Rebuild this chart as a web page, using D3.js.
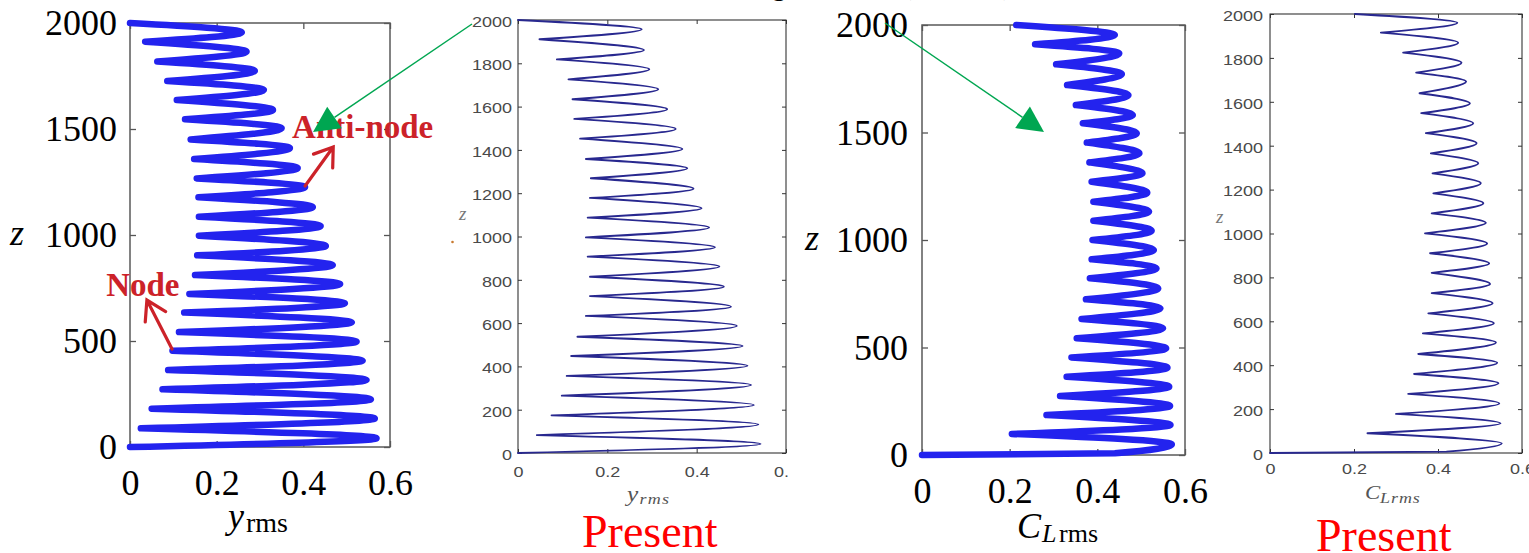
<!DOCTYPE html>
<html>
<head>
<meta charset="utf-8">
<script src="https://cdn.jsdelivr.net/npm/d3@7"></script>
<style>
body{margin:0;background:#fff;}
svg{display:block;}
</style>
</head>
<body>
<script>

// values: [value, z]
// left/right extremes of each zigzag, top to bottom

var xTicks = [0, 0.2, 0.4, 0.6];
var bigZTicks = [0, 500, 1000, 1500, 2000];
var smallZTicks = [0, 200, 400, 600, 800, 1000, 1200, 1400, 1600, 1800, 2000];

// panel 1: y_rms (reference)
var yStart = [0, 2000];
var yPeaks = [[0.258,1956],[0.269,1865],[0.288,1774],[0.309,1684],[0.330,1590],[0.350,1504],[0.369,1410],[0.387,1316],[0.404,1226],[0.422,1132],[0.440,1042],[0.452,948],[0.468,858],[0.485,769],[0.496,678],[0.512,588],[0.523,497],[0.537,407],[0.546,316],[0.556,225],[0.565,134],[0.569,41]];
var yTroughs = [[0.035,1912],[0.063,1818],[0.086,1726],[0.108,1637],[0.127,1546],[0.140,1451],[0.148,1358],[0.154,1267],[0.158,1178],[0.159,1086],[0.159,997],[0.155,904],[0.150,811],[0.137,722],[0.125,634],[0.113,542],[0.098,454],[0.088,363],[0.075,272],[0.050,181],[0.025,88]];
var yEnd = [[0, 0]];

// panel 2: y_rms (present)
var ypStart = [0, 2000];
var ypPeaks = [[0.277,1957],[0.282,1861],[0.294,1772],[0.314,1680],[0.334,1588],[0.353,1497],[0.368,1404],[0.379,1315],[0.393,1221],[0.411,1130],[0.428,1041],[0.441,950],[0.451,861],[0.461,768],[0.477,676],[0.490,587],[0.503,494],[0.514,403],[0.522,314],[0.528,222],[0.538,132],[0.543,42]];
var ypTroughs = [[0.048,1911],[0.087,1818],[0.113,1726],[0.122,1634],[0.126,1543],[0.139,1452],[0.152,1358],[0.163,1269],[0.161,1178],[0.156,1087],[0.152,996],[0.156,907],[0.161,814],[0.161,725],[0.152,633],[0.133,537],[0.119,448],[0.109,356],[0.098,265],[0.075,174],[0.042,83]];
var ypEnd = [[0, 0]];

// panel 3: C_Lrms (reference)
var cStart = [0.215, 2000];
var cPeaks = [[0.440,1953],[0.450,1868],[0.456,1772],[0.471,1674],[0.481,1581],[0.490,1496],[0.496,1403],[0.503,1310],[0.514,1220],[0.518,1132],[0.524,1043],[0.529,953],[0.535,868],[0.539,775],[0.544,682],[0.550,589],[0.557,496],[0.560,406],[0.564,318],[0.566,228],[0.567,140],[0.570,50]];
var cTroughs = [[0.258,1910],[0.306,1817],[0.331,1721],[0.351,1628],[0.367,1543],[0.376,1453],[0.382,1361],[0.387,1271],[0.391,1178],[0.391,1090],[0.389,1000],[0.387,910],[0.383,822],[0.374,724],[0.364,633],[0.353,543],[0.341,454],[0.330,364],[0.315,274],[0.284,186],[0.205,98]];
var cEnd = [[0.44, 8], [0, 0]];

// panel 4: C_Lrms (present)
var cpStart = [0.202, 2000];
var cpPeaks = [[0.446,1960],[0.448,1869],[0.456,1778],[0.467,1692],[0.476,1593],[0.484,1502],[0.492,1411],[0.496,1320],[0.502,1229],[0.508,1138],[0.514,1049],[0.517,955],[0.522,864],[0.524,770],[0.530,682],[0.533,591],[0.538,503],[0.541,411],[0.544,318],[0.546,226],[0.549,135],[0.552,44]];
var cpTroughs = [[0.264,1915],[0.317,1824],[0.348,1733],[0.356,1639],[0.360,1548],[0.371,1457],[0.383,1365],[0.387,1274],[0.389,1183],[0.385,1092],[0.369,1001],[0.381,910],[0.385,821],[0.385,728],[0.377,636],[0.364,545],[0.353,451],[0.343,360],[0.329,269],[0.300,178],[0.232,90]];
var cpEnd = [[0.42, 6], [0, 0]];


var svg = d3.select("body").append("svg")
    .attr("width", 1529).attr("height", 553);

var SERIF = "'Liberation Serif','Times New Roman',serif";
var SANS = "'Liberation Sans',Arial,sans-serif";

svg.append("clipPath").attr("id", "clip2")
  .append("rect").attr("x", 430).attr("y", 0).attr("width", 358).attr("height", 553);


function fmt(d){ return d === 0 ? "0" : d.toFixed(1); }

// one zigzag: trough -> peak -> trough pieces, each monotone in z
function curvePath(x, y, start, peaks, troughs, end){
  var line = d3.line()
      .x(function(d){ return x(d[0]); })
      .y(function(d){ return y(d[1]); })
      .curve(d3.curveMonotoneY);
  var lows = [start].concat(troughs);
  var d = "";
  for (var i = 0; i < peaks.length; i++) {
    var seg = [lows[i], peaks[i]];
    if (i < troughs.length) seg.push(troughs[i]);
    else seg = seg.concat(end);
    d += line(seg);
  }
  return d;
}

function panel(o){
  var g = svg.append("g");
  if (o.clip) g.attr("clip-path", "url(#" + o.clip + ")");
  var x = d3.scaleLinear().domain([0, 0.6]).range([o.x0, o.x1]);
  var y = d3.scaleLinear().domain([0, 2000]).range([o.y1, o.y0]);
  var big = o.big;
  var tk = big ? 6 : 4;

  var left = g.append("g").attr("transform", "translate(" + o.x0 + ",0)")
      .call(d3.axisLeft(y).tickValues(o.zTicks).tickFormat(d3.format("d"))
        .tickSize(-tk).tickSizeOuter(0).tickPadding(o.padL));
  var bottom = g.append("g").attr("transform", "translate(0," + o.y1 + ")")
      .call(d3.axisBottom(x).tickValues(xTicks).tickFormat(fmt).tickSize(-tk).tickSizeOuter(0).tickPadding(o.padB));
  g.append("g").attr("transform", "translate(" + o.x1 + ",0)")
      .call(d3.axisRight(y).tickValues(o.zTicks).tickSize(-tk).tickSizeOuter(0).tickFormat(function(){ return ""; }));
  g.append("g").attr("transform", "translate(0," + o.y0 + ")")
      .call(d3.axisTop(x).tickValues(xTicks).tickSize(-tk).tickSizeOuter(0).tickFormat(function(){ return ""; }));

  g.selectAll(".domain").remove();
  g.selectAll(".tick line").attr("stroke", big ? "#555" : "#333").attr("stroke-width", big ? 1.3 : 1);
  g.selectAll(".tick text")
      .attr("font-family", big ? SERIF : SANS)
      .attr("font-size", big ? 36 : 15)
      .attr("fill", big ? "#000" : "#4a4a4a");
  if (!big) {
    left.selectAll(".tick text").attr("x", -o.padL / 1.2).attr("dy", "0.42em").attr("transform", "scale(1.2,1)");
    bottom.selectAll(".tick text").attr("transform", "scale(1.2,1)");
  }

  g.append("rect")
      .attr("x", o.x0).attr("y", o.y0)
      .attr("width", o.x1 - o.x0).attr("height", o.y1 - o.y0)
      .attr("fill", "none")
      .attr("stroke", big ? "#5a5a5a" : "#333")
      .attr("stroke-width", big ? 1.5 : 1.1);

  g.append("path")
      .attr("d", curvePath(x, y, o.start, o.peaks, o.troughs, o.end))
      .attr("fill", "none")
      .attr("stroke", o.color)
      .attr("stroke-width", o.lw)
      .attr("stroke-linecap", "round")
      .attr("stroke-linejoin", "round");

  return {g: g, x: x, y: y};
}

var p1 = panel({x0:130, x1:390, y0:23, y1:447, zTicks:bigZTicks, big:true, padL:13, padB:22,
  start:yStart, peaks:yPeaks, troughs:yTroughs, end:yEnd, color:"#2323ee", lw:6.5});
var p2 = panel({x0:518, x1:786, y0:20, y1:453, zTicks:smallZTicks, big:false, padL:6, padB:13, clip:"clip2",
  start:ypStart, peaks:ypPeaks, troughs:ypTroughs, end:ypEnd, color:"#28288f", lw:1.8});
var p3 = panel({x0:922, x1:1185, y0:25, y1:455, zTicks:bigZTicks, big:true, padL:14, padB:22,
  start:cStart, peaks:cPeaks, troughs:cTroughs, end:cEnd, color:"#2323ee", lw:6.5});
var p4 = panel({x0:1270, x1:1522, y0:14, y1:453, zTicks:smallZTicks, big:false, padL:7, padB:10.5,
  start:cpStart, peaks:cpPeaks, troughs:cpTroughs, end:cpEnd, color:"#28288f", lw:1.8});


// axis titles, big panels
function txt(x, y, s, size, opts){
  opts = opts || {};
  return svg.append("text").attr("x", x).attr("y", y).text(s)
    .attr("font-family", opts.family || SERIF)
    .attr("font-size", size)
    .attr("font-style", opts.italic ? "italic" : null)
    .attr("font-weight", opts.bold ? "bold" : null)
    .attr("fill", opts.fill || "#000");
}
txt(10, 245, "z", 36, {italic:true});
txt(228, 528, "y", 36, {italic:true});
txt(246, 532, "rms", 28);

txt(805, 250, "z", 36, {italic:true});
txt(1017, 538, "C", 36, {italic:true});
txt(1042, 542, "L", 26, {italic:true});
txt(1059, 542, "rms", 26);

// axis titles, small panels (stretched like the source image)
function stretched(x, y){
  return svg.append("g").attr("transform", "translate(" + x + "," + y + ") scale(1.2,1)");
}
var t2 = stretched(627, 501);
t2.append("text").text("y").attr("font-family", SERIF).attr("font-style", "italic").attr("font-size", 21).attr("fill", "#555");
t2.append("text").text("rms").attr("x", 10.5).attr("y", 3).attr("font-family", SERIF).attr("font-style", "italic")
  .attr("font-size", 15).attr("letter-spacing", 1).attr("fill", "#555");
var t4 = stretched(1365, 499);
t4.append("text").text("C").attr("font-family", SERIF).attr("font-style", "italic").attr("font-size", 19).attr("fill", "#555");
t4.append("text").text("Lrms").attr("x", 12.5).attr("y", 4).attr("font-family", SERIF).attr("font-style", "italic")
  .attr("font-size", 15).attr("letter-spacing", 0.8).attr("fill", "#555");
txt(459, 220, "z", 19, {italic:true, fill:"#777"});
txt(1216, 223, "z", 19, {italic:true, fill:"#777"});
svg.append("circle").attr("cx", 452.5).attr("cy", 242).attr("r", 1.3).attr("fill", "#c87a30");

txt(582, 547, "Present", 46, {fill:"#ff0000"});
txt(1316, 551, "Present", 46, {fill:"#ff0000"});

// cut-off caption above the figure
txt(772, -5, "g", 28);
txt(903, -5.5, "(", 26, {fill:"#aaa"});
txt(1003, -5.5, ")", 26, {fill:"#aaa"});


// red annotations on panel 1
var RED = "#cc2229";
function openArrow(x1, y1, x2, y2, len, ang){
  var a = Math.atan2(y2 - y1, x2 - x1);
  var p = d3.path();
  p.moveTo(x1, y1); p.lineTo(x2, y2);
  p.moveTo(x2 - len * Math.cos(a - ang), y2 - len * Math.sin(a - ang));
  p.lineTo(x2, y2);
  p.lineTo(x2 - len * Math.cos(a + ang), y2 - len * Math.sin(a + ang));
  svg.append("path").attr("d", p.toString()).attr("fill", "none")
    .attr("stroke", RED).attr("stroke-width", 3.2).attr("stroke-linecap", "round").attr("stroke-linejoin", "miter");
}
var X1 = p1.x, Y1 = p1.y;
txt(X1(0.374), Y1(1458), "Anti-node", 33, {bold:true, fill:RED});
openArrow(X1(0.404), Y1(1231), X1(0.469), Y1(1415), 21, 0.6);
txt(X1(-0.055), Y1(712), "Node", 33, {bold:true, fill:RED});
openArrow(X1(0.097), Y1(462), X1(0.039), Y1(693), 22, 0.55);


// green arrows from the present panels to the reference panels
var GREEN = "#00a651";
function greenArrow(x1, y1, x2, y2){
  var dx = x2 - x1, dy = y2 - y1, L = Math.sqrt(dx * dx + dy * dy);
  var ux = dx / L, uy = dy / L, hl = 26, hw = 13;
  var bx = x2 - hl * ux, by = y2 - hl * uy;
  svg.append("line").attr("x1", x1).attr("y1", y1).attr("x2", bx).attr("y2", by)
    .attr("stroke", GREEN).attr("stroke-width", 1.5);
  svg.append("path")
    .attr("d", "M" + x2 + "," + y2 + "L" + (bx - hw * uy) + "," + (by + hw * ux) + "L" + (bx + hw * uy) + "," + (by - hw * ux) + "Z")
    .attr("fill", GREEN);
}
greenArrow(472, 24, 313, 132);
greenArrow(885, 23, 1044, 132);

</script>
</body>
</html>
